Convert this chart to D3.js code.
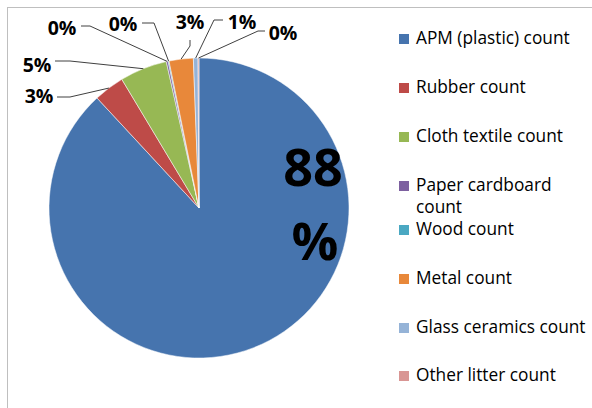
<!DOCTYPE html>
<html>
<head>
<meta charset="utf-8">
<script src="https://cdn.jsdelivr.net/npm/d3@7"></script>
<style>
  body { margin: 0; background: #fff; }
  svg { display: block; }
  text { font-family: "Open Sans", sans-serif; }
</style>
</head>
<body>
<div id="chart"></div>
<script>
(function() {
'use strict';

// litter categories and their share (percent of total count)
const categories = ['APM (plastic) count', 'Rubber count', 'Cloth textile count',
  'Paper cardboard count', 'Wood count', 'Metal count', 'Glass ceramics count', 'Other litter count'];
const values = [88.1, 3.3, 5.1, 0.2, 0.1, 2.6, 0.5, 0.1];
const colors = ['#4674AE', '#BE4B48', '#97B854', '#7D60A0', '#4AA8C2', '#E8883A', '#95B3D7', '#D99694'];

// where each outside label sits, and the bend of its leader line
const labelPos = [
  null,
  {x: 39, y: 103, bend: [[57, 97], [70, 97]]},
  {x: 37, y: 72, bend: [[55, 61], [70, 61]]},
  {x: 62, y: 35, bend: [[81, 26], [90, 26]]},
  {x: 123, y: 31, bend: [[142, 23], [154, 23]]},
  {x: 190, y: 29, bend: [[190, 40], [190, 46]]},
  {x: 242, y: 29, bend: [[223, 20], [214, 20]]},
  {x: 283, y: 40, bend: [[265, 31], [258, 31]]}
];

const width = 592;
const height = 408;
const cx = 199;
const cy = 208;
const radius = 150;

const total = d3.sum(values);
const fmt = v => Math.round(v / total * 100) + '%';

const svg = d3.select('#chart')
  .append('svg')
  .attr('width', width)
  .attr('height', height);

// chart area frame
svg.append('rect')
  .attr('x', 7.5)
  .attr('y', 7.5)
  .attr('width', 620)
  .attr('height', 440)
  .attr('fill', 'none')
  .attr('stroke', '#bfbfbf');

const pie = d3.pie()
  .value(d => d)
  .sort(null);

const arc = d3.arc()
  .innerRadius(0)
  .outerRadius(radius);

const edge = d3.arc()
  .innerRadius(radius)
  .outerRadius(radius);

const slices = pie(values);

const g = svg.append('g')
  .attr('transform', 'translate(' + cx + ',' + cy + ')');

g.selectAll('path')
  .data(slices)
  .enter()
  .append('path')
  .attr('d', arc)
  .attr('fill', (d, i) => colors[i])
  .attr('stroke', '#fff')
  .attr('stroke-width', 0.5);

// leader lines from label to slice edge
const line = d3.line();
slices.forEach((d, i) => {
  const p = labelPos[i];
  if (!p) return;
  const c = edge.centroid(d);
  const pts = p.bend.concat([[c[0] + cx, c[1] + cy]]);
  svg.append('path')
    .attr('d', line(pts))
    .attr('fill', 'none')
    .attr('stroke', '#404040')
    .attr('stroke-width', 1);
  svg.append('text')
    .attr('x', p.x)
    .attr('y', p.y)
    .attr('text-anchor', 'middle')
    .attr('font-weight', 'bold')
    .attr('font-size', 19.5)
    .attr('fill', '#000')
    .text(fmt(d.value));
});

// big label inside the main slice, wrapped like the original
const big = fmt(values[0]);
const bigText = svg.append('text')
  .attr('text-anchor', 'middle')
  .attr('font-weight', 'bold')
  .attr('font-size', 52)
  .attr('fill', '#000');
bigText.append('tspan').attr('x', 313).attr('y', 186).text(big.slice(0, -1));
bigText.append('tspan').attr('x', 315).attr('y', 260).text('%');

// legend
const legendRows = [44, 93, 142, 191, 235, 284, 333, 381];
const legend = svg.append('g');
categories.forEach((name, i) => {
  const y = legendRows[i];
  legend.append('rect')
    .attr('x', 399)
    .attr('y', y - 10)
    .attr('width', 10)
    .attr('height', 10)
    .attr('fill', colors[i]);
  const t = legend.append('text')
    .attr('x', 416)
    .attr('y', y)
    .attr('font-size', 17.3)
    .attr('fill', '#000');
  if (name === 'Paper cardboard count') {
    t.append('tspan').attr('x', 416).attr('y', y).text('Paper cardboard');
    t.append('tspan').attr('x', 416).attr('y', y + 22).text('count');
  } else {
    t.text(name);
  }
});

})();
</script>
</body>
</html>
